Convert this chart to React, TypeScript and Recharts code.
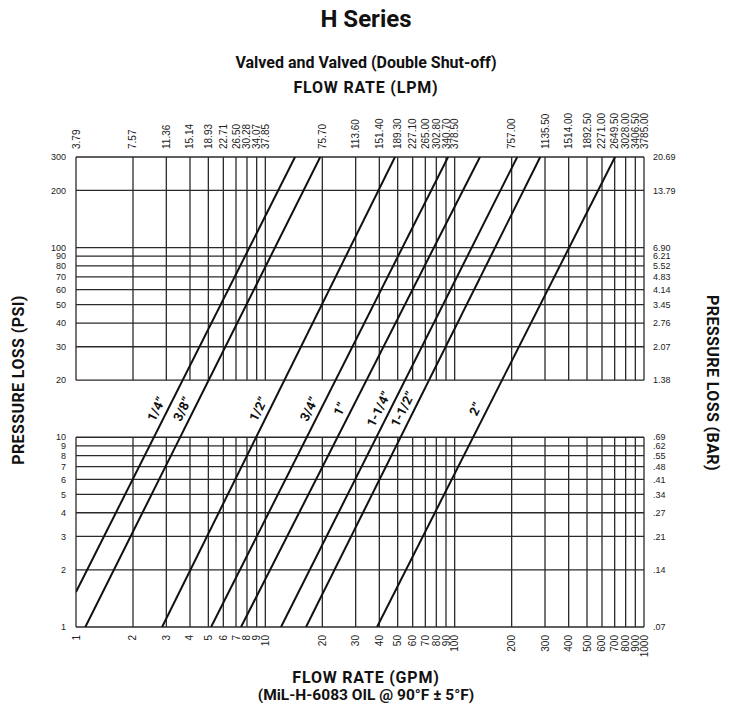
import { Line, LineChart, ReferenceDot, ReferenceLine, XAxis, YAxis } from "recharts";

// flow rate ticks (GPM) and the matching LPM labels on top
const gpmTicks = [1, 2, 3, 4, 5, 6, 7, 8, 9, 10, 20, 30, 40, 50, 60, 70, 80, 90, 100, 200, 300, 400, 500, 600, 700, 800, 900, 1000];
const lpmLabels = ["3.79", "7.57", "11.36", "15.14", "18.93", "22.71", "26.50", "30.28", "34.07", "37.85",
    "75.70", "113.60", "151.40", "189.30", "227.10", "265.00", "302.80", "340.70", "378.50",
    "757.00", "1135.50", "1514.00", "1892.50", "2271.00", "2649.50", "3028.00", "3406.50", "3785.00"];

// pressure ticks (PSI) and the matching BAR labels on the right
const psiTicks = [1, 2, 3, 4, 5, 6, 7, 8, 9, 10, 20, 30, 40, 50, 60, 70, 80, 90, 100, 200, 300];
const barLabels = [".07", ".14", ".21", ".27", ".34", ".41", ".48", ".55", ".62", ".69",
    "1.38", "2.07", "2.76", "3.45", "4.14", "4.83", "5.52", "6.21", "6.90", "13.79", "20.69"];

// one straight (log-log) line per hose size, start and end points
const sizes = ["1/4”", "3/8”", "1/2”", "3/4”", "1”", "1-1/4”", "1-1/2”", "2”"];
const startGpm = [1, 1.12, 2.85, 5.17, 7.44, 12.1, 16.4, 38.9];
const startPsi = [1.53, 1, 1, 1, 1, 1, 1, 1];
const endGpm = [14.35, 19.5, 48.4, 92.3, 136, 214, 283, 703];
const endPsi = [300, 300, 300, 300, 300, 300, 300, 300];

const labelPsi = 14.1;
const gridColor = "#2a2a2a";
const textColor = "#222";
const numFont = "'Liberation Sans', Arial, sans-serif";
const titleFont = "Roboto, 'Liberation Sans', sans-serif";

const lines = sizes.map((name, i) => {
    const x1 = Math.log10(startGpm[i]), y1 = Math.log10(startPsi[i]);
    const x2 = Math.log10(endGpm[i]), y2 = Math.log10(endPsi[i]);
    const lx = x1 + (Math.log10(labelPsi) - y1) / (y2 - y1) * (x2 - x1);
    return {
        name,
        data: [{ gpm: startGpm[i], psi: startPsi[i] }, { gpm: endGpm[i], psi: endPsi[i] }],
        labelGpm: Math.pow(10, lx),
    };
});

const lpmFor = (v: number) => {
    const idx = gpmTicks.findIndex((g) => Math.abs(g - v) < g * 1e-6);
    return idx >= 0 ? lpmLabels[idx] : "";
};

const BottomTick = (props: any) => {
    const { x, y, payload } = props;
    return (
        <text transform={`translate(${x},${y}) rotate(-90)`} textAnchor="end" dy="0.35em"
            fontSize={10} fontFamily={numFont} fill={textColor}>
            {payload.value}
        </text>
    );
};

const TopTick = (props: any) => {
    const { x, y, payload } = props;
    return (
        <text transform={`translate(${x},${y}) rotate(-90)`} textAnchor="start" dy="0.35em"
            fontSize={10} fontFamily={numFont} fill={textColor}>
            {lpmFor(payload.value)}
        </text>
    );
};

const SizeLabel = (text: string) => (props: any) => {
    const { cx, cy } = props;
    return (
        <text transform={`translate(${cx - 12},${cy}) rotate(-63.5)`} textAnchor="middle" dy="0.35em"
            fontSize={13} fontWeight={700} fontFamily={titleFont} fill="#111">
            {text}
        </text>
    );
};

const title = (text: string, top: number, size: number, extra: any = {}) => (
    <div style={{
        position: "absolute", left: 0, width: 732, top, textAlign: "center", fontFamily: titleFont,
        fontWeight: 700, fontSize: size, lineHeight: `${size}px`, color: "#111", whiteSpace: "nowrap", ...extra
    }}>{text}</div>
);

export default function App() {
    return (
        <div style={{ position: "absolute", left: 0, top: 0, width: 732, height: 706, background: "#fff" }}>
            {title("H Series", 7, 24)}
            {title("Valved and Valved (Double Shut-off)", 55, 16)}
            {title("FLOW RATE (LPM)", 80, 16, { letterSpacing: 0.8 })}
            {title("FLOW RATE (GPM)", 670, 16, { letterSpacing: 0.8 })}
            {title("(MiL-H-6083 OIL @ 90°F ± 5°F)", 688, 15.5)}
            <div style={{
                position: "absolute", left: 18, top: 380, transform: "translate(-50%,-50%) rotate(-90deg)",
                whiteSpace: "nowrap", fontFamily: titleFont, fontWeight: 700, fontSize: 16, letterSpacing: 0.4, color: "#111"
            }}>PRESSURE LOSS (PSI)</div>
            <div style={{
                position: "absolute", left: 712, top: 383, transform: "translate(-50%,-50%) rotate(90deg)",
                whiteSpace: "nowrap", fontFamily: titleFont, fontWeight: 700, fontSize: 16, letterSpacing: 0.4, color: "#111"
            }}>PRESSURE LOSS (BAR)</div>

            <div style={{ position: "absolute", left: 0, top: 0 }}>
                <LineChart width={732} height={706} margin={{ top: 107, left: 36, right: 28, bottom: 49 }}>
                    <XAxis xAxisId={0} dataKey="gpm" type="number" scale="log" domain={[1, 1000]} allowDataOverflow
                        ticks={gpmTicks} interval={0} axisLine={false} tickLine={false} tickSize={6} tickMargin={2}
                        height={30} tick={<BottomTick />} />
                    <XAxis xAxisId="top" dataKey="gpm" orientation="top" type="number" scale="log" domain={[1, 1000]} allowDataOverflow
                        ticks={gpmTicks} interval={0} axisLine={false} tickLine={false} tickSize={6} tickMargin={2}
                        height={50} tick={<TopTick />} />
                    <YAxis yAxisId={0} type="number" scale="log" domain={[1, 300]} allowDataOverflow
                        ticks={psiTicks} interval={0} axisLine={false} tickLine={false} tickSize={6} tickMargin={4}
                        width={40} tick={{ fontSize: 9, fontFamily: numFont, fill: textColor }} />
                    <YAxis yAxisId="right" orientation="right" type="number" scale="log" domain={[1, 300]} allowDataOverflow
                        ticks={psiTicks} interval={0} axisLine={false} tickLine={false} tickSize={6} tickMargin={3}
                        width={60} tick={{ fontSize: 9, fontFamily: numFont, fill: textColor, textAnchor: "start" }}
                        tickFormatter={(v: number) => barLabels[psiTicks.indexOf(v)]} />

                    {psiTicks.map((p) => (
                        <ReferenceLine key={`h${p}`} y={p} stroke={gridColor} strokeWidth={1.3} ifOverflow="visible" />
                    ))}
                    {gpmTicks.map((g) => (
                        <ReferenceLine key={`vl${g}`} segment={[{ x: g, y: 1 }, { x: g, y: 10 }]}
                            stroke={gridColor} strokeWidth={1.3} ifOverflow="visible" />
                    ))}
                    {gpmTicks.map((g) => (
                        <ReferenceLine key={`vu${g}`} segment={[{ x: g, y: 20 }, { x: g, y: 300 }]}
                            stroke={gridColor} strokeWidth={1.3} ifOverflow="visible" />
                    ))}

                    {lines.map((l) => (
                        <Line key={l.name} data={l.data} dataKey="psi" type="linear" stroke="#111" strokeWidth={2}
                            dot={false} activeDot={false} isAnimationActive={false} />
                    ))}
                    {lines.map((l) => (
                        <ReferenceDot key={`lab${l.name}`} x={l.labelGpm} y={labelPsi} r={0}
                            shape={SizeLabel(l.name)} ifOverflow="visible" />
                    ))}
                </LineChart>
            </div>
        </div>
    );
}
